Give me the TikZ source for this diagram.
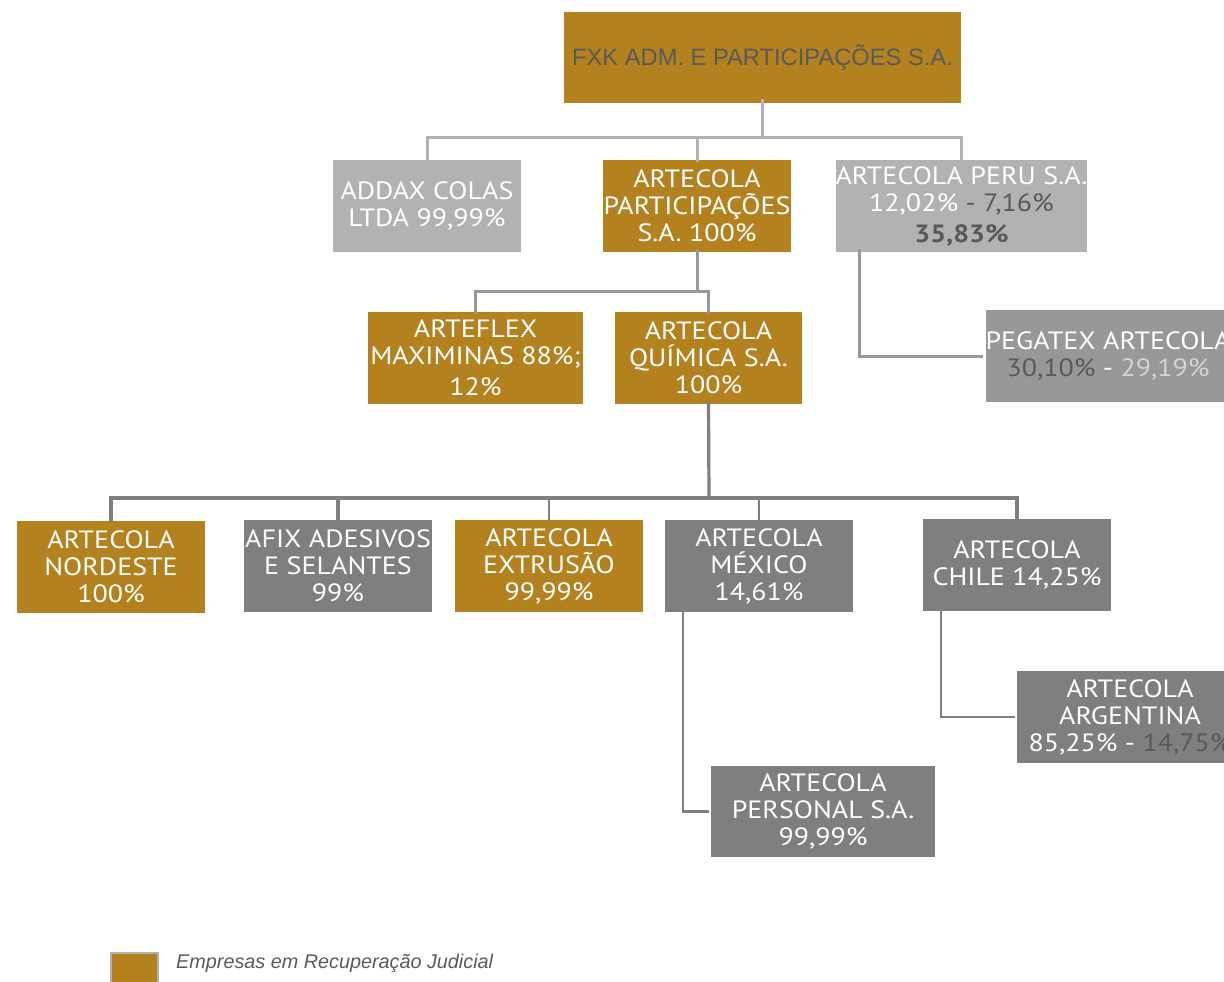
\documentclass[tikz,border=0pt]{standalone}
\usepackage{fontspec}
\setmainfont{PT Sans}[FakeStretch=1.12]
\newfontfamily\titlefont{Liberation Sans}
\definecolor{gold}{HTML}{B3821F}
\definecolor{lgray}{HTML}{B2B2B2}
\definecolor{mgray}{HTML}{989898}
\definecolor{dgray}{HTML}{7F7F7F}
\definecolor{txtdark}{HTML}{595959}
\definecolor{txtlight}{HTML}{D4D4D4}
\begin{document}
\begin{tikzpicture}[x=1pt,y=-1pt,
  box/.style={rectangle, inner sep=0pt, align=center, text=white,
    font=\fontsize{25}{27}\selectfont},
  goldbox/.style={box, fill=gold},
  lbox/.style={box, fill=lgray},
  mbox/.style={box, fill=mgray},
  dbox/.style={box, fill=dgray},
  lineA/.style={draw=lgray, line width=3pt},
  lineB/.style={draw=mgray, line width=3pt},
  lineC/.style={draw=dgray, line width=3.2pt},
]
\useasboundingbox (0,0) rectangle (1224,982);
\clip (0,0) rectangle (1224,982);

% top
\node[goldbox, minimum width=397pt, minimum height=91pt, text=txtdark,
  font=\titlefont\fontsize{23.7}{27}\selectfont] (fxk) at (762.5,57.5) {FXK ADM. E PARTICIPAÇÕES S.A.};

% level 1
\node[lbox, minimum width=188pt, minimum height=92pt] (addax) at (427,206) {ADDAX COLAS\\LTDA 99,99\%};
\node[goldbox, minimum width=188pt, minimum height=92pt] (part) at (697,206) {ARTECOLA\\PARTICIPAÇÕES\\S.A. 100\%};
\node[lbox, minimum width=249pt, minimum height=92pt] (peru) at (961.5,206)
  {ARTECOLA PERU S.A.\\12,02\% {\color{txtdark}- 7,16\%}\\[4pt]{\color{txtdark}\bfseries 35,83\%}};
\node[mbox, minimum width=240pt, minimum height=92pt] (pegatex) at (1108,356)
  {PEGATEX ARTECOLA\\{\color{txtdark}30,10\%} - {\color{txtlight}29,19\%}};

% level 2
\node[goldbox, minimum width=215pt, minimum height=92pt] (arteflex) at (475.5,358) {ARTEFLEX\\MAXIMINAS 88\%;\\[4pt]12\%};
\node[goldbox, minimum width=187pt, minimum height=92pt] (quimica) at (708.5,358) {ARTECOLA\\QUÍMICA S.A.\\100\%};

% level 3
\node[goldbox, minimum width=188pt, minimum height=92pt] (nordeste) at (111,566.5) {ARTECOLA\\NORDESTE\\100\%};
\node[dbox, minimum width=188pt, minimum height=92pt] (afix) at (338,566) {AFIX ADESIVOS\\E SELANTES\\99\%};
\node[goldbox, minimum width=188pt, minimum height=92pt] (extrusao) at (549,566) {ARTECOLA\\EXTRUSÃO\\99,99\%};
\node[dbox, minimum width=188pt, minimum height=92pt] (mexico) at (759,566) {ARTECOLA\\MÉXICO\\14,61\%};
\node[dbox, minimum width=188pt, minimum height=92pt] (chile) at (1017,565) {ARTECOLA\\CHILE 14,25\%};

% level 4
\node[dbox, minimum width=226pt, minimum height=92pt] (argentina) at (1130,717)
  {ARTECOLA\\ARGENTINA\\85,25\% - {\color{txtdark}14,75\%}};
\node[dbox, minimum width=224pt, minimum height=91pt] (personal) at (823,811.5) {ARTECOLA\\PERSONAL S.A.\\99,99\%};

% connectors
\coordinate (j1) at (762.5,137);
\draw[lineA] ([yshift=4pt]fxk.south) -- (j1);
\draw[lineA] ([yshift=-2pt]addax.north) |- (j1) -| ([yshift=-2pt]peru.north);
\draw[lineA] (j1 -| part.north) -- ([yshift=-2pt]part.north);
\draw[lineB] ([xshift=24pt,yshift=3pt]peru.south west) |- ([xshift=-2pt]pegatex.west);

\coordinate (j2) at (697,291);
\draw[lineB] ([yshift=3pt]part.south) -- (j2);
\draw[lineB] ([yshift=-2pt]arteflex.north) |- (j2) -| ([yshift=-2pt]quimica.north);

\coordinate (j3) at (709,498);
\draw[lineC] ([yshift=3pt]quimica.south) -- (j3);
\draw[lineC] ([yshift=-2pt]nordeste.north) |- (j3) -| ([yshift=-2pt]chile.north);
\draw[lineC] (j3 -| afix.north) -- ([yshift=-2pt]afix.north);
\draw[lineC, line width=1.8pt] (j3 -| extrusao.north) -- ([yshift=-2pt]extrusao.north);
\draw[lineC, line width=1.8pt] (j3 -| mexico.north) -- ([yshift=-2pt]mexico.north);
\draw[lineC, line width=2.2pt] ([xshift=18pt,yshift=3pt]mexico.south west) |- ([xshift=-2pt]personal.west);
\draw[lineC, line width=2.2pt] ([xshift=18pt,yshift=3pt]chile.south west) |- ([xshift=-2pt]argentina.west);

% legend
\node[rectangle, fill=gold, draw=lgray, line width=2pt, minimum width=47pt, minimum height=30pt, inner sep=0pt] (leg) at (134,968) {};
\node[anchor=west, text=txtdark, inner sep=0pt, font=\titlefont\itshape\fontsize{19.8}{22}\selectfont] (legtext) at (176,963) {Empresas em Recuperação Judicial};
\end{tikzpicture}
\end{document}
